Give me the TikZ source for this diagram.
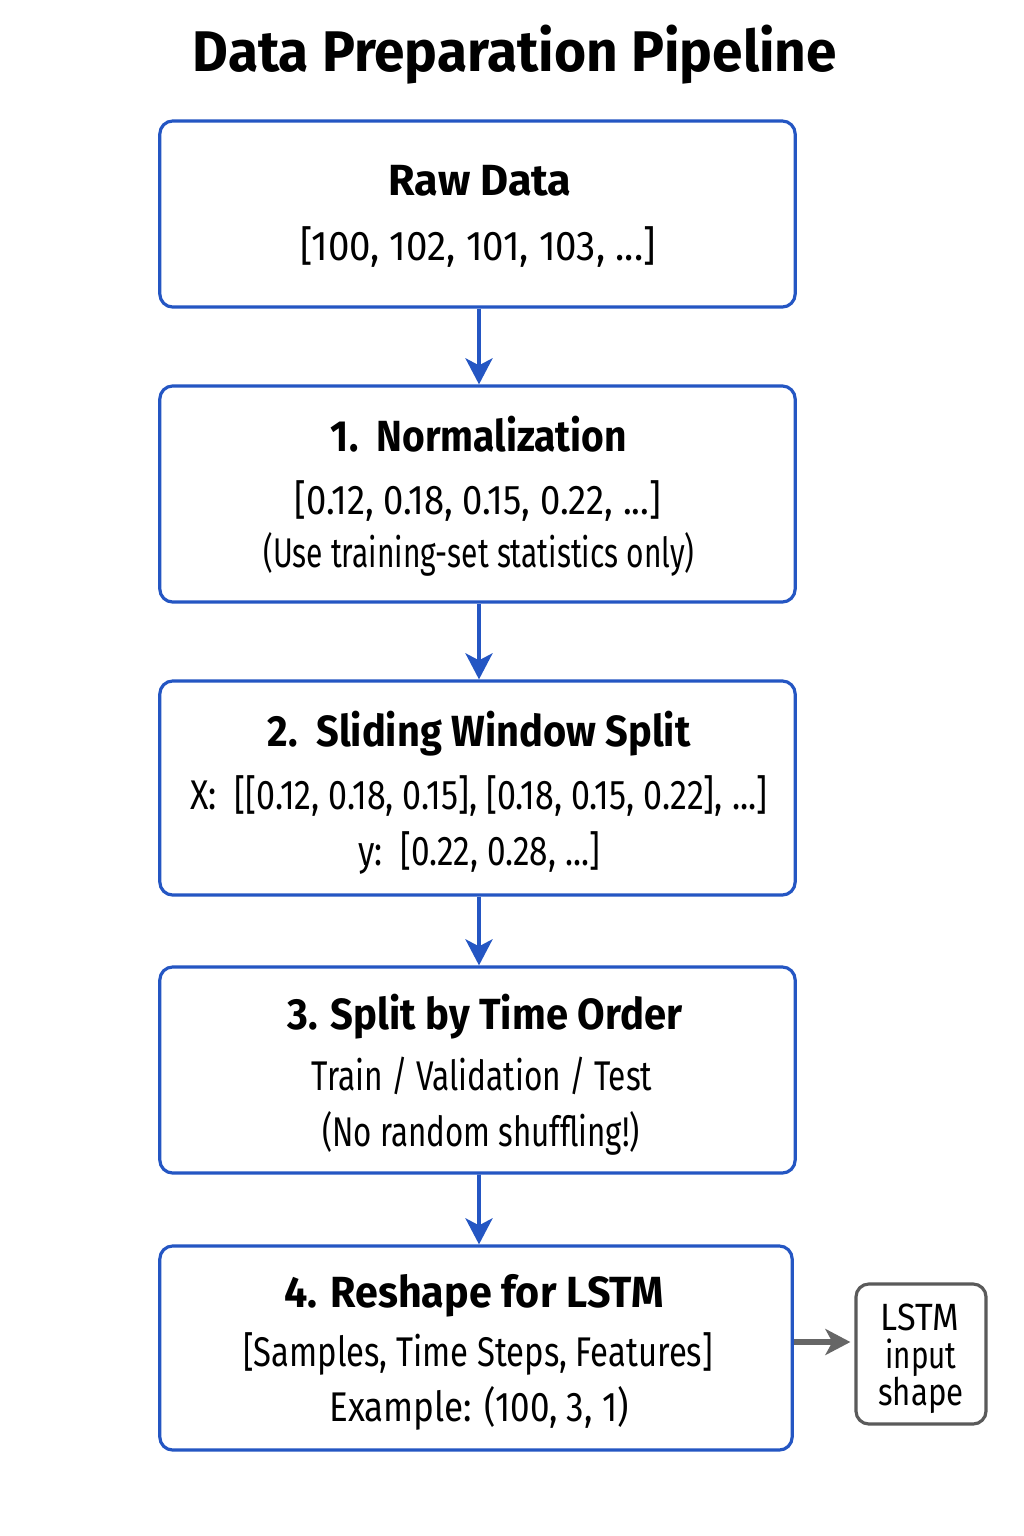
\documentclass[tikz,border=0pt]{standalone}
\usepackage{fontspec}
\usepackage{graphicx}
\setmainfont{Fira Sans}[FakeStretch=0.82, BoldFeatures={FakeStretch=0.96}]
\usetikzlibrary{arrows.meta}
\definecolor{pipeblue}{HTML}{2456C3}
\definecolor{shapegray}{HTML}{5A5A5A}
\definecolor{arrowgray}{HTML}{666666}
\newcommand{\wsc}[2]{\scalebox{#1}[1]{#2}}
\tikzset{
  stepbox/.style={draw=pipeblue, line width=0.9pt, rounded corners=0.13cm, fill=white, inner sep=0pt},
  sidebox/.style={draw=shapegray, line width=0.9pt, rounded corners=0.13cm, fill=white, inner sep=0pt},
  txt/.style={inner sep=0pt, text height=0.69em, text depth=0pt, anchor=center},
  titletxt/.style={txt, font=\fontsize{16.3}{20}\selectfont\bfseries},
  headtxt/.style={txt, font=\fontsize{12.4}{15}\selectfont\bfseries},
  bodytxt/.style={txt, font=\fontsize{11.8}{14}\selectfont},
  sidetxt/.style={txt, font=\fontsize{10.8}{13}\selectfont},
  flow/.style={draw=pipeblue, line width=1.1pt, -{Stealth[length=0.26cm, width=0.27cm, inset=0.07cm]}},
  sideflow/.style={draw=arrowgray, line width=1.5pt, -{Stealth[length=0.25cm, width=0.26cm, inset=0.07cm]}}
}
\begin{document}
\begin{tikzpicture}[x=0.01cm, y=-0.01cm]
\useasboundingbox[fill=white] (0,0) rectangle (1024,1536);

\node[titletxt] (title) at (515,59) {Data Preparation Pipeline};

% boxes
\node[stepbox, minimum width=6.35cm, minimum height=1.86cm] (raw) at (477.5,214) {};
\node[stepbox, minimum width=6.35cm, minimum height=2.16cm] (norm) at (477.5,494) {};
\node[stepbox, minimum width=6.35cm, minimum height=2.14cm] (slide) at (477.5,788) {};
\node[stepbox, minimum width=6.35cm, minimum height=2.06cm] (split) at (477.5,1070) {};
\node[stepbox, minimum width=6.32cm, minimum height=2.04cm] (reshape) at (476,1348) {};
\node[sidebox, minimum width=1.30cm, minimum height=1.40cm] (lstm) at (921,1354) {};

% texts
\node[headtxt] (rawh) at (480,183) {\wsc{1.03}{Raw Data}};
\node[bodytxt] (rawb) at (478,248) {\wsc{1.13}{[100, 102, 101, 103, ...]}};

\node[headtxt] (normh) at (479,439) {\wsc{0.93}{1.\hspace{0.45em}Normalization}};
\node[bodytxt] (normb) at (478,502) {\wsc{1.07}{[0.12, 0.18, 0.15, 0.22, ...]}};
\node[bodytxt] (normc) at (479,555) {\wsc{0.88}{(Use training-set statistics only)}};

\node[headtxt] (slideh) at (479,734) {\wsc{0.95}{2.\hspace{0.45em}Sliding Window Split}};
\node[bodytxt] (slideb) at (479,797) {X:\ \ [[0.12, 0.18, 0.15], [0.18, 0.15, 0.22], ...]};
\node[bodytxt] (slidec) at (479,853) {\wsc{0.98}{y:\ \ [0.22, 0.28, ...]}};

\node[headtxt] (splith) at (485,1017) {\wsc{0.955}{3. Split by Time Order}};
\node[bodytxt] (splitb) at (482,1078) {\wsc{0.93}{Train / Validation / Test}};
\node[bodytxt] (splitc) at (481,1134) {\wsc{0.92}{(No random shuffling!)}};

\node[headtxt] (reshapeh) at (474,1295) {\wsc{0.985}{4. Reshape for LSTM}};
\node[bodytxt] (reshapeb) at (478,1354) {\wsc{0.965}{[Samples, Time Steps, Features]}};
\node[bodytxt] (reshapec) at (479,1409) {\wsc{1.03}{Example: (100, 3, 1)}};

\node[sidetxt] (lstma) at (920,1318) {\wsc{1.1}{LSTM}};
\node[sidetxt] (lstmb) at (921,1356) {\wsc{0.95}{input}};
\node[sidetxt] (lstmc) at (921,1393) {shape};

% connectors
\draw[flow] ([xshift=0.015cm]raw.south) -- ([xshift=0.015cm]norm.north);
\draw[flow] ([xshift=0.015cm]norm.south) -- ([xshift=0.015cm]slide.north);
\draw[flow] ([xshift=0.015cm]slide.south) -- ([xshift=0.015cm]split.north);
\draw[flow] ([xshift=0.015cm]split.south) -- ([xshift=0.03cm]reshape.north);
\draw[sideflow] ([yshift=0.06cm]reshape.east) -- ([yshift=0.06cm, xshift=-0.04cm]reshape.east -| lstm.west);
\end{tikzpicture}
\end{document}
